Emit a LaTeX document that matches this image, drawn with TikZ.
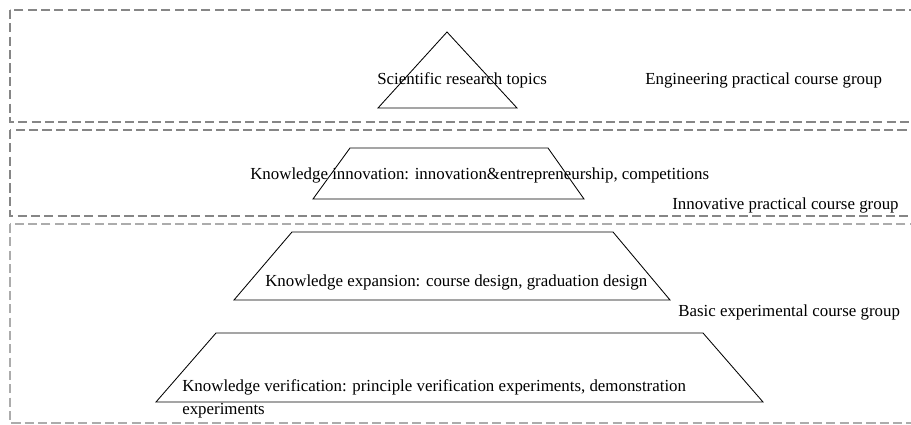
\documentclass[tikz,border=0pt]{standalone}
\usepackage{fontspec}
\setmainfont{Liberation Serif}
\usetikzlibrary{positioning}

\begin{document}
\begin{tikzpicture}[x=0.025cm, y=-0.025cm,
            group/.style={draw=gray!95, dash pattern=on 6.5pt off 3pt, line width=1pt},
            layer/.style={draw, line width=0.6pt},
            txt/.style={inner sep=0pt, anchor=west, align=left, font=\fontsize{12}{16.4}\selectfont}]
            \useasboundingbox (0,0) rectangle (911,425);
            \clip (0,0) rectangle (911,425);

            % course groups
            \draw[group] (10,10) rectangle (940,122);
            \draw[group] (10,130) rectangle (940,216);
            \draw[group, draw=gray!65] (10,224) rectangle (940,423);

            % pyramid layers
            \draw[layer] (378,108) -- (447,32) -- (517,108) -- cycle;
            \draw[layer] (313,199) -- (350,148) -- (548,148) -- (584,199) -- cycle;
            \draw[layer] (234,300) -- (292,232) -- (613,232) -- (670,300) -- cycle;
            \draw[layer] (156,402) -- (216,333) -- (703,333) -- (763,402) -- cycle;

            % layer texts
            \node[txt] (sci) at (377,80) {Scientific research topics};
            \node[txt] (innov) at (250,175) {Knowledge innovation: innovation\&entrepreneurship, competitions};
            \node[txt] (expand) at (265,282) {Knowledge expansion: course design, graduation design};
            \node[txt, anchor=north west] (verif) at (182,379) {Knowledge verification: principle verification experiments, demonstration\\experiments};

            % group names
            \node[txt] (eng) at (645,80) {Engineering practical course group};
            \node[txt] (innovgrp) at (672,205) {Innovative practical course group};
            \node[txt] (basic) at (678,312) {Basic experimental course group};
        \end{tikzpicture}
\end{document}
